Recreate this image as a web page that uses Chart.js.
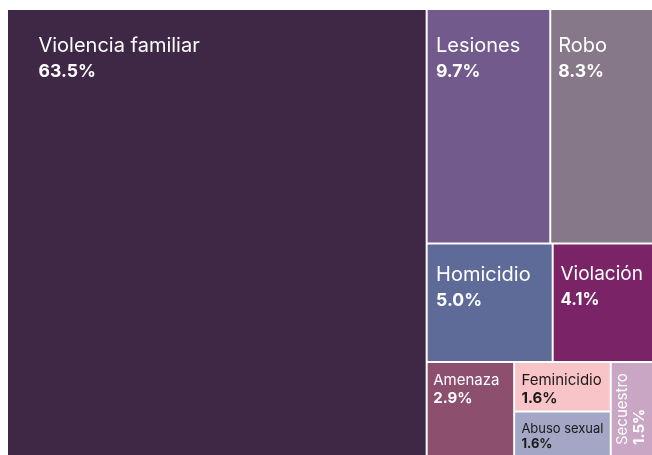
<!DOCTYPE html>
<html>
<head>
<meta charset="utf-8">
<script src="https://cdn.jsdelivr.net/npm/chart.js@4.4.1/dist/chart.umd.min.js"></script>
<style>
    html, body { margin: 0; padding: 0; background: #ffffff; overflow: hidden; }
    #wrap { position: relative; width: 652px; height: 455px; overflow: hidden; }
    #myChart { position: absolute; left: 0; top: 0; }
</style>
</head>
<body>
<div id="wrap"><canvas id="myChart" width="656" height="461"></canvas></div>
<script>
// categories and their share of all reports (%)
var categories = ['Violencia familiar', 'Lesiones', 'Robo', 'Homicidio', 'Violación',
    'Amenaza', 'Feminicidio', 'Abuso sexual', 'Secuestro'];
var shares = [63.5, 9.7, 8.3, 5.0, 4.1, 2.9, 1.6, 1.6, 1.5];

// styling
var boxColors = ['#3f2846', '#735a8c', '#877889', '#5e6a97', '#7a2367',
    '#8c4f6e', '#f9c4c8', '#a3a6c5', '#c9a6c4'];
var labelColors = ['#ffffff', '#ffffff', '#ffffff', '#ffffff', '#ffffff',
    '#ffffff', '#1a1a1a', '#1a1a1a', '#ffffff'];
var fontFamily = 'Inter, "Noto Sans", sans-serif';

// squarified layout (d3 style, golden ratio), rows run across the width
// unless the free space is clearly wider than tall
function squarify(values, x0, y0, x1, y1) {
    var ratio = (1 + Math.sqrt(5)) / 2;
    var rects = [];
    var value = 0;
    var i, j;
    for (i = 0; i < values.length; i++) value += values[i];
    var i0 = 0, n = values.length;
    while (i0 < n) {
        var dx = x1 - x0, dy = y1 - y0;
        var sumValue = values[i0], minValue = sumValue, maxValue = sumValue;
        var alpha = Math.max(dy / dx, dx / dy) / (value * ratio);
        var beta = sumValue * sumValue * alpha;
        var minRatio = Math.max(maxValue / beta, beta / minValue);
        var i1 = i0 + 1;
        for (; i1 < n; i1++) {
            var v = values[i1];
            sumValue += v;
            if (v < minValue) minValue = v;
            if (v > maxValue) maxValue = v;
            beta = sumValue * sumValue * alpha;
            var newRatio = Math.max(maxValue / beta, beta / minValue);
            if (newRatio > minRatio) { sumValue -= v; break; }
            minRatio = newRatio;
        }
        if (dx < dy * 1.1) {
            var h = dy * sumValue / value, x = x0;
            for (j = i0; j < i1; j++) {
                var w = dx * values[j] / sumValue;
                rects[j] = {x0: x, x1: x + w, y0: y0, y1: y0 + h};
                x += w;
            }
            y0 += h;
        } else {
            var cw = dx * sumValue / value, y = y0;
            for (j = i0; j < i1; j++) {
                var ch = dy * values[j] / sumValue;
                rects[j] = {x0: x0, x1: x0 + cw, y0: y, y1: y + ch};
                y += ch;
            }
            x0 += cw;
        }
        value -= sumValue;
        i0 = i1;
    }
    return rects;
}

// small treemap controller, boxes are drawn as bar elements
class TreemapController extends Chart.DatasetController {
    update(mode) {
        var meta = this._cachedMeta;
        this.updateElements(meta.data, 0, meta.data.length, mode);
    }

    updateElements(boxes, start, count, mode) {
        var area = this.chart.chartArea;
        var xScale = this._cachedMeta.xScale;
        var yScale = this._cachedMeta.yScale;
        var values = this.getDataset().data;
        var aspect = (area.right - area.left) / (area.bottom - area.top);
        var rects = squarify(values, 0, 0, 100 * aspect, 100);
        for (var i = start; i < start + count; i++) {
            var r = rects[i];
            var left = xScale.getPixelForValue(r.x0 / aspect);
            var right = xScale.getPixelForValue(r.x1 / aspect);
            var top = yScale.getPixelForValue(r.y0);
            var bottom = yScale.getPixelForValue(r.y1);
            this.updateElement(boxes[i], i, {
                x: (left + right) / 2,
                width: right - left,
                y: top,
                base: bottom,
                height: bottom - top,
                horizontal: false,
                borderSkipped: {},
                inflateAmount: 0,
                enableBorderRadius: false,
                options: this.resolveDataElementOptions(i, mode)
            }, mode);
        }
    }

    draw() {
        super.draw();
        var ctx = this.chart.ctx;
        var labels = this.chart.data.labels;
        var values = this.getDataset().data;
        var boxes = this._cachedMeta.data;
        for (var i = 0; i < boxes.length; i++) {
            var el = boxes[i];
            var left = el.x - el.width / 2;
            var top = Math.min(el.y, el.base);
            var w = el.width;
            var h = Math.abs(el.base - el.y);
            var rotate = w < 60 && h > w;
            var along = rotate ? h : w;
            var across = rotate ? w : h;
            var big = along > 90 && across > 100;
            var pad = rotate ? 16 : Math.min(32, Math.max(5, along * 0.075));
            var nameSize = big ? 20 : 15;
            ctx.font = nameSize + 'px ' + fontFamily;
            var tw = ctx.measureText(labels[i]).width;
            var avail = big ? along * 0.8 : along - 2 * pad;
            if (rotate) avail = along - 20;
            if (tw > avail) {
                nameSize = Math.max(11, nameSize * avail / tw);
            }
            var valueSize = big ? nameSize * 0.88 : nameSize;
            var gap = big ? 25 : nameSize * 1.18;
            var capTop = across > 110 ? Math.min(28, across * 0.19) : 12;
            if (rotate) capTop = 5;
            var baseLine = capTop + nameSize * 0.73;

            ctx.save();
            if (rotate) {
                ctx.translate(left, top + h);
                ctx.rotate(-Math.PI / 2);
            } else {
                ctx.translate(left, top);
            }
            ctx.fillStyle = labelColors[i];
            ctx.textAlign = 'left';
            ctx.textBaseline = 'alphabetic';
            ctx.font = nameSize + 'px ' + fontFamily;
            ctx.fillText(labels[i], pad, baseLine);
            ctx.font = 'bold ' + valueSize + 'px ' + fontFamily;
            ctx.fillText(values[i].toFixed(1) + '%', pad, baseLine + gap);
            ctx.restore();
        }
    }
}
TreemapController.id = 'treemap';
TreemapController.defaults = {
    datasetElementType: false,
    dataElementType: 'bar'
};
Chart.register(TreemapController);

var ctx = document.getElementById('myChart').getContext('2d');
var chart = new Chart(ctx, {
    type: 'treemap',
    data: {
        labels: categories,
        datasets: [{
            label: 'Delitos',
            data: shares,
            backgroundColor: boxColors,
            borderColor: '#ffffff',
            borderWidth: 1
        }]
    },
    options: {
        responsive: false,
        animation: false,
        events: [],
        devicePixelRatio: 1,
        layout: { padding: { left: 7, top: 9, right: 0, bottom: 0 } },
        plugins: {
            legend: { display: false },
            tooltip: { enabled: false }
        },
        scales: {
            x: { type: 'linear', display: false, min: 0, max: 100 },
            y: { type: 'linear', display: false, min: 0, max: 100, reverse: true }
        }
    }
});
</script>
</body>
</html>
